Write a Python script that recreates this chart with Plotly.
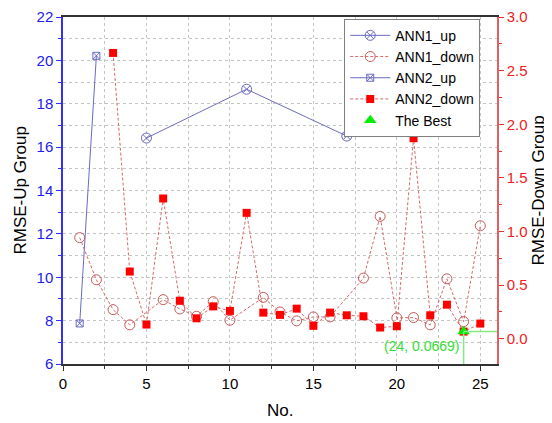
import plotly.graph_objects as go

# ---- data ----
ann1_up_x = [5, 11, 17]
ann1_up_y = [16.42, 18.67, 16.51]

ann2_up_x = [1, 2]
ann2_up_y = [7.87, 20.21]

ann1_down_x = [1, 2, 3, 4, 6, 7, 8, 9, 10, 12, 13, 14, 15, 16, 18, 19, 20, 21, 22, 23, 24, 25]
ann1_down_y = [0.943, 0.550, 0.272, 0.130, 0.365, 0.278, 0.210, 0.346, 0.173, 0.386, 0.250,
               0.167, 0.204, 0.204, 0.566, 1.141, 0.195, 0.198, 0.130, 0.559, 0.160, 1.054]

ann2_down_x = [3, 4, 5, 6, 7, 8, 9, 10, 11, 12, 13, 14, 15, 16, 17, 18, 19, 20, 21, 22, 23, 24, 25]
ann2_down_y = [2.665, 0.627, 0.133, 1.308, 0.355, 0.191, 0.302, 0.260, 1.174, 0.244, 0.223,
               0.281, 0.121, 0.244, 0.219, 0.210, 0.105, 0.117, 1.870, 0.219, 0.318, 0.0669, 0.142]

best_x = 24
best_y = 0.0669

x_range = [0, 26]
left_range = [6, 22]
right_range = [-0.235, 3.0]

x_title = "No."
left_title = "RMSE-Up Group"
right_title = "RMSE-Down Group"

FONT = "Liberation Sans, Arial, sans-serif"
BLUE_LINE = "#6b6bc4"
RED_LINE = "#d46a6a"
GRID = "#c4c4c4"

fig = go.Figure()

fig.add_trace(go.Scatter(
    x=ann1_up_x, y=ann1_up_y, name="ANN1_up", mode="lines+markers",
    line=dict(color=BLUE_LINE, width=1),
    marker=dict(symbol="circle-x-open", size=10, color=BLUE_LINE, line=dict(width=1)),
    yaxis="y"))
fig.add_trace(go.Scatter(
    x=ann1_down_x, y=ann1_down_y, name="ANN1_down", mode="lines+markers",
    line=dict(color=RED_LINE, width=1, dash="3px,2px"),
    marker=dict(symbol="circle-open", size=10, color="#c85a5a", line=dict(width=1)),
    yaxis="y2"))
fig.add_trace(go.Scatter(
    x=ann2_up_x, y=ann2_up_y, name="ANN2_up", mode="lines+markers",
    line=dict(color=BLUE_LINE, width=1),
    marker=dict(symbol="square-x-open", size=7, color=BLUE_LINE, line=dict(width=1)),
    yaxis="y"))
fig.add_trace(go.Scatter(
    x=ann2_down_x, y=ann2_down_y, name="ANN2_down", mode="lines+markers",
    line=dict(color=RED_LINE, width=1, dash="3px,2px"),
    marker=dict(symbol="square", size=8, color="#ff0000"),
    yaxis="y2"))
fig.add_trace(go.Scatter(
    x=[best_x], y=[best_y], name="The Best", mode="markers",
    marker=dict(symbol="triangle-up", size=11, color="#00ee00"),
    yaxis="y2"))

# drop lines for the best point
fig.add_shape(type="line", xref="x", yref="y2", x0=best_x, x1=best_x,
              y0=right_range[0], y1=best_y, line=dict(color="#88e888", width=1.5))
fig.add_shape(type="line", xref="x", yref="y2", x0=best_x, x1=x_range[1],
              y0=best_y, y1=best_y, line=dict(color="#88e888", width=1.5))

fig.add_annotation(x=best_x, y=best_y, xref="x", yref="y2",
                   text=f"({best_x}, {best_y})", showarrow=False,
                   xanchor="right", yanchor="top", xshift=-2, yshift=-4,
                   font=dict(family=FONT, size=14, color="#33dd33"))

# axis titles as annotations for precise placement
title_font = dict(family=FONT, size=17, color="black")
fig.add_annotation(x=0, y=0.5, xref="paper", yref="paper", text=left_title,
                   textangle=-90, showarrow=False, xanchor="center", yanchor="middle",
                   xshift=-43, font=title_font)
fig.add_annotation(x=1, y=0.5, xref="paper", yref="paper", text=right_title,
                   textangle=-90, showarrow=False, xanchor="center", yanchor="middle",
                   xshift=41, font=title_font)
fig.add_annotation(x=0.5, y=0, xref="paper", yref="paper", text=x_title,
                   showarrow=False, xanchor="center", yanchor="middle",
                   yshift=-46, font=title_font)

# page body adds an 8px offset, so the figure is 8px smaller on each side
fig.update_layout(
    width=544, height=415,
    margin=dict(l=55, r=55, t=9, b=59, autoexpand=False),
    paper_bgcolor="white", plot_bgcolor="white",
    font=dict(family=FONT, size=15, color="black"),
    showlegend=True,
    legend=dict(x=0.648, y=0.995, xanchor="left", yanchor="top",
                bgcolor="white", bordercolor="#808080", borderwidth=1,
                font=dict(family=FONT, size=14, color="black"),
                tracegroupgap=0, itemwidth=40),
    xaxis=dict(
        range=x_range, dtick=5, tick0=0, showgrid=True, gridcolor=GRID, griddash="dot",
        gridwidth=1, zeroline=False, automargin=False, ticklabeloverflow="allow",
        showline=True, linecolor="#333333", linewidth=1.5, mirror=True,
        ticks="outside", ticklen=5, tickcolor="#333333",
        minor=dict(dtick=2.5, ticks="outside", ticklen=3, showgrid=True,
                   gridcolor=GRID, griddash="dot", tickcolor="#333333"),
        tickfont=dict(family=FONT, size=15, color="black"),
    ),
    yaxis=dict(
        range=left_range, dtick=2, tick0=6, showgrid=True, gridcolor=GRID, griddash="dot",
        zeroline=False, automargin=False, ticklabeloverflow="allow",
        showline=True, linecolor="#3030ff", linewidth=1.5,
        ticks="outside", ticklen=5, tickcolor="#3030ff",
        minor=dict(dtick=1, ticks="outside", ticklen=3, showgrid=True,
                   gridcolor=GRID, griddash="dot", tickcolor="#3030ff"),
        tickfont=dict(family=FONT, size=15, color="#2020ee"),
    ),
    yaxis2=dict(
        range=right_range, dtick=0.5, tick0=0, tickformat=".1f", overlaying="y", side="right",
        showgrid=False, zeroline=False, automargin=False, ticklabeloverflow="allow",
        showline=True, linecolor="#e06060", linewidth=1.5,
        ticks="outside", ticklen=5, tickcolor="#e03030",
        minor=dict(dtick=0.25, ticks="outside", ticklen=3, tickcolor="#e03030"),
        tickfont=dict(family=FONT, size=15, color="#ee2020"),
    ),
)

fig.write_html("out.html")
